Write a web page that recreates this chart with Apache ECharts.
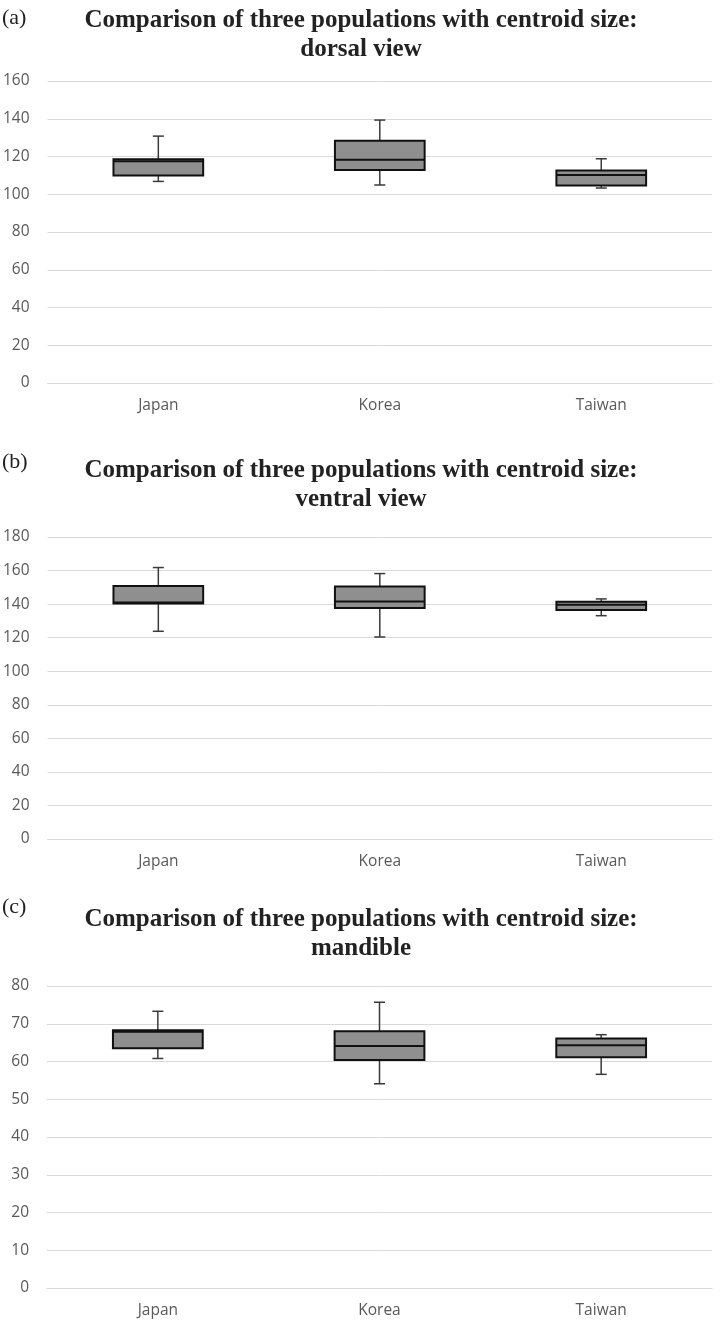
<!DOCTYPE html>
<html>
<head>
<meta charset="utf-8">
<script src="https://cdn.jsdelivr.net/npm/echarts@6/dist/echarts.min.js"></script>
<style>
  html, body { margin: 0; padding: 0; background: #fff; }
  #chart { width: 725px; height: 1326px; }
</style>
</head>
<body>
<div id="chart"></div>
<script>
// categories and box statistics: [min, q1, median, q3, max]
const categories = ['Japan', 'Korea', 'Taiwan']
const dorsalStats = [
  [106.8, 109.9, 117.5, 118.6, 130.8],
  [104.9, 112.8, 118.3, 128.4, 139.3],
  [103.3, 104.6, 110.2, 112.6, 118.8]
]
const ventralStats = [
  [123.8, 140.4, 141.0, 150.8, 161.8],
  [120.4, 137.7, 141.6, 150.5, 158.2],
  [133.1, 136.5, 139.6, 141.4, 143.1]
]
const mandibleStats = [
  [60.8, 63.5, 67.9, 68.3, 73.3],
  [54.1, 60.4, 64.1, 68.0, 75.7],
  [56.6, 61.1, 64.3, 66.1, 67.1]
]
const panelTitles = [
  'Comparison of three populations with centroid size:\ndorsal view',
  'Comparison of three populations with centroid size:\nventral view',
  'Comparison of three populations with centroid size:\nmandible'
]
const panelLetters = ['(a)', '(b)', '(c)']
const yMax = [160, 180, 80]
const yStep = [20, 20, 10]

const gridTops = [81, 537, 986]
const titleTops = [6, 456, 905]
const letterTops = [7, 451, 896]

const labelFont = { fontFamily: 'Open Sans', fontSize: 15.5, color: '#595959' }

function renderBox(params, api) {
  const idx = api.value(0)
  const pMin = api.coord([idx, api.value(1)])
  const pQ1 = api.coord([idx, api.value(2)])
  const pMed = api.coord([idx, api.value(3)])
  const pQ3 = api.coord([idx, api.value(4)])
  const pMax = api.coord([idx, api.value(5)])
  const bw = api.size([1, 0])[0] * 0.405
  const x = pMed[0]
  const cap = 5.5
  const whisker = { stroke: '#3a3a3a', lineWidth: 1.5 }
  return {
    type: 'group',
    children: [
      { type: 'line', shape: { x1: x, y1: pMax[1], x2: x, y2: pQ3[1] }, style: whisker },
      { type: 'line', shape: { x1: x - cap, y1: pMax[1], x2: x + cap, y2: pMax[1] }, style: whisker },
      { type: 'line', shape: { x1: x, y1: pQ1[1], x2: x, y2: pMin[1] }, style: whisker },
      { type: 'line', shape: { x1: x - cap, y1: pMin[1], x2: x + cap, y2: pMin[1] }, style: whisker },
      {
        type: 'rect',
        shape: { x: x - bw / 2, y: pQ3[1], width: bw, height: pQ1[1] - pQ3[1] },
        style: { fill: '#8f8f8f', stroke: '#111', lineWidth: 2 }
      },
      {
        type: 'line',
        shape: { x1: x - bw / 2, y1: pMed[1], x2: x + bw / 2, y2: pMed[1] },
        style: { stroke: '#111', lineWidth: 2 }
      }
    ]
  }
}

const allStats = [dorsalStats, ventralStats, mandibleStats]

const chart = echarts.init(document.getElementById('chart'), null, { renderer: 'canvas' })

const titles = []
panelTitles.forEach((t, i) => {
  titles.push({
    text: t,
    left: 361,
    top: titleTops[i],
    padding: 0,
    textAlign: 'center',
    textStyle: { fontFamily: 'Liberation Serif', fontWeight: 'bold', fontSize: 25, lineHeight: 29, color: '#222' }
  })
  titles.push({
    text: panelLetters[i],
    left: 2,
    top: letterTops[i],
    padding: 0,
    textStyle: { fontFamily: 'Liberation Serif', fontWeight: 'normal', fontSize: 22, color: '#222' }
  })
})

chart.setOption({
  animation: false,
  backgroundColor: '#fff',
  title: titles,
  grid: gridTops.map(top => ({ left: 47, width: 665, top: top, height: 302 })),
  xAxis: gridTops.map((_, i) => ({
    type: 'category',
    gridIndex: i,
    data: categories,
    axisLine: { show: true, lineStyle: { color: '#d9d9d9', width: 1 } },
    axisTick: { show: false },
    axisLabel: Object.assign({ margin: 15 }, labelFont)
  })),
  yAxis: gridTops.map((_, i) => ({
    type: 'value',
    gridIndex: i,
    min: 0,
    max: yMax[i],
    interval: yStep[i],
    axisLine: { show: false },
    axisTick: { show: false },
    axisLabel: Object.assign({ margin: 18 }, labelFont),
    splitLine: { lineStyle: { color: '#d9d9d9', width: 1 } }
  })),
  series: allStats.map((stats, i) => ({
    type: 'custom',
    xAxisIndex: i,
    yAxisIndex: i,
    silent: true,
    renderItem: renderBox,
    encode: { x: 0, y: [1, 2, 3, 4, 5] },
    data: stats.map((s, k) => [k].concat(s))
  }))
})
</script>
</body>
</html>
